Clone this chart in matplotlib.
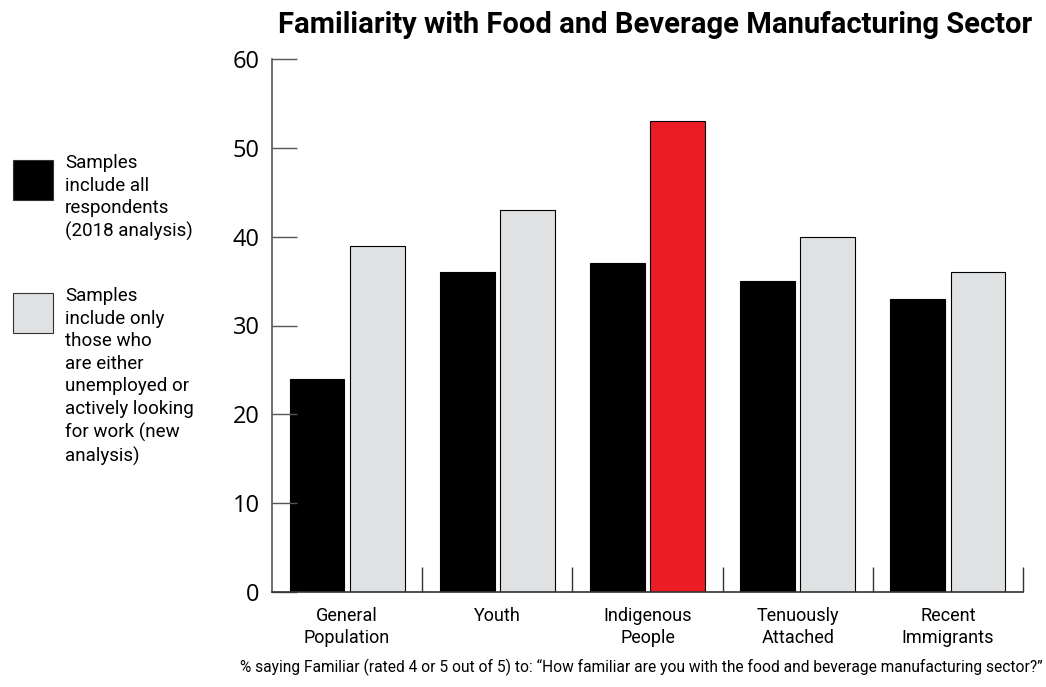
import numpy as np
import matplotlib.pyplot as plt
from matplotlib.patches import Rectangle

categories = ["General\nPopulation", "Youth", "Indigenous\nPeople", "Tenuously\nAttached", "Recent\nImmigrants"]
all_respondents = [24, 36, 37, 35, 33]
job_seekers = [39, 43, 53, 40, 36]
highlight = "Indigenous\nPeople"

legend_labels = [
    "Samples\ninclude all\nrespondents\n(2018 analysis)",
    "Samples\ninclude only\nthose who\nare either\nunemployed or\nactively looking\nfor work (new\nanalysis)",
]

BLACK = "#000000"
GRAY = "#e0e1e3"
RED = "#ec1c24"

plt.rcParams["font.family"] = ["Roboto", "DejaVu Sans"]

fig = plt.figure(figsize=(10.46, 6.87), dpi=100)
ax = fig.add_axes([272 / 1046, 1 - 592 / 687, (1023 - 272) / 1046, (592 - 59) / 687])

x = np.arange(len(categories))
w = 0.365
ax.bar(x - 0.2, all_respondents, w, color=BLACK, edgecolor=BLACK, linewidth=0.8)
gray_colors = [RED if c == highlight else GRAY for c in categories]
ax.bar(x + 0.2, job_seekers, w, color=gray_colors, edgecolor=BLACK, linewidth=0.8)

ax.set_xlim(-0.5, len(categories) - 0.5)
ax.set_ylim(0, 60)
ax.set_yticks(range(0, 61, 10))
ax.set_yticklabels([str(v) for v in range(0, 61, 10)], fontsize=17, family=["Open Sans", "DejaVu Sans"])
ax.tick_params(axis="y", direction="in", length=18, width=1, color="#555555", pad=9)

# category boundary ticks on the x axis
ax.set_xticks(np.arange(len(categories)) + 0.5, minor=True)
ax.set_xticks(x)
ax.set_xticklabels(categories, fontsize=13, linespacing=1.25)
ax.tick_params(axis="x", which="major", length=0, pad=11)
ax.tick_params(axis="x", which="minor", direction="in", length=18, width=1, color="#333333")

for s in ["top", "right"]:
    ax.spines[s].set_visible(False)
ax.spines["left"].set_color("#555555")
ax.spines["bottom"].set_color("#333333")
ax.spines["left"].set_linewidth(1.2)
ax.spines["bottom"].set_linewidth(1.2)

fig.text(655 / 1046, 1 - 25 / 687, "Familiarity with Food and Beverage Manufacturing Sector",
         ha="center", va="center", fontsize=21, fontweight="bold")

fig.text(1043 / 1046, 1 - 667 / 687,
         "% saying Familiar (rated 4 or 5 out of 5) to: \u201cHow familiar are you with the food and beverage manufacturing sector?\u201d",
         ha="right", va="center", fontsize=11.2)

# legend
for (y0, col), lab in zip([(160, BLACK), (293, GRAY)], legend_labels):
    fig.patches.append(Rectangle((13 / 1046, 1 - (y0 + 40) / 687), 40 / 1046, 40 / 687,
                                 transform=fig.transFigure, facecolor=col, edgecolor="#333333", linewidth=0.8))
    fig.text(65 / 1046, 1 - (y0 - 6) / 687, lab, ha="left", va="top", fontsize=13.5, linespacing=1.33)

fig.savefig("out.png", dpi=100)
